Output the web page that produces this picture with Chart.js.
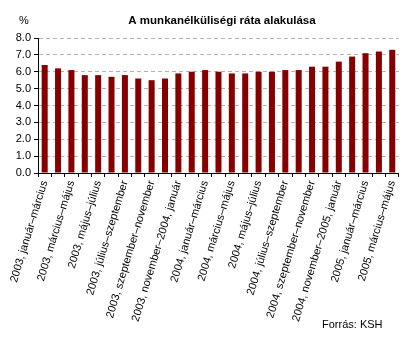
<!DOCTYPE html>
<html>
<head>
<meta charset="utf-8">
<script src="https://cdn.jsdelivr.net/npm/chart.js@4/dist/chart.umd.min.js"></script>
<style>
  html, body { margin: 0; padding: 0; background: #fff; }
  #wrap { width: 407px; height: 337px; position: relative; }
</style>
</head>
<body>
<div id="wrap"><canvas id="chart"></canvas></div>
<script>
// three-month moving periods, KSH labour force survey
const periods = [
  "2003, január–március",
  "2003, február–április",
  "2003, március–május",
  "2003, április–június",
  "2003, május–július",
  "2003, június–augusztus",
  "2003, július–szeptember",
  "2003, augusztus–október",
  "2003, szeptember–november",
  "2003, október–december",
  "2003, november–2004, január",
  "2003, december–2004, február",
  "2004, január–március",
  "2004, február–április",
  "2004, március–május",
  "2004, április–június",
  "2004, május–július",
  "2004, június–augusztus",
  "2004, július–szeptember",
  "2004, augusztus–október",
  "2004, szeptember–november",
  "2004, október–december",
  "2004, november–2005, január",
  "2004, december–2005, február",
  "2005, január–március",
  "2005, február–április",
  "2005, március–május"
];

// unemployment rate, %
const rate = [
  6.4, 6.2, 6.1, 5.8, 5.8, 5.7, 5.8, 5.6, 5.5, 5.6,
  5.9, 6.0, 6.1, 6.0, 5.9, 5.9, 6.0, 6.0, 6.1, 6.1,
  6.3, 6.3, 6.6, 6.9, 7.1, 7.2, 7.3
];

const yTicks = [0, 1, 2, 3, 4, 5, 6, 7, 8];

const FONT = "Arial, 'Liberation Sans', sans-serif";

// title, unit and source are placed by hand like in the printed report
const extraText = {
  id: "extraText",
  afterDraw(chart) {
    const ctx = chart.ctx;
    ctx.save();
    ctx.fillStyle = "#000";
    ctx.textBaseline = "middle";
    ctx.font = "bold 11.5px " + FONT;
    ctx.textAlign = "center";
    ctx.fillText("A munkanélküliségi ráta alakulása", 222, 21);
    ctx.font = "11px " + FONT;
    ctx.textAlign = "left";
    ctx.fillText("%", 19, 21);
    ctx.fillText("Forrás: KSH", 322, 325);
    ctx.restore();
  }
};

new Chart(document.getElementById("chart"), {
  type: "bar",
  data: {
    labels: periods,
    datasets: [{
      data: rate,
      backgroundColor: "#860000",
      borderWidth: 0,
      barPercentage: 0.45,
      categoryPercentage: 1.0
    }]
  },
  options: {
    responsive: true,
    maintainAspectRatio: false,
    animation: false,
    layout: { padding: { top: 38, right: 6, left: 0, bottom: 0 } },
    plugins: {
      legend: { display: false },
      title: { display: false },
      tooltip: { enabled: false }
    },
    scales: {
      x: {
        offset: true,
        grid: {
          offset: true,
          drawOnChartArea: false,
          drawTicks: true,
          tickLength: 4,
          tickColor: "#000",
          tickWidth: 1
        },
        border: { display: true, color: "#000", width: 1 },
        ticks: {
          autoSkip: false,
          maxRotation: 73,
          minRotation: 73,
          padding: 2,
          color: "#000",
          font: { family: FONT, size: 11 },
          callback: (v, i) => (i % 2 === 0 ? periods[i] : "")
        },
        afterFit(scale) { scale.height = 164; }
      },
      y: {
        min: 0,
        max: 8,
        afterBuildTicks(scale) { scale.ticks = yTicks.map(v => ({ value: v })); },
        grid: {
          color: "#b8b5a4",
          lineWidth: 1,
          drawTicks: true,
          tickLength: 4,
          tickColor: "#000",
          tickBorderDash: []
        },
        border: { display: true, color: "#000", width: 1, dash: [4, 3] },
        ticks: {
          padding: 3,
          color: "#000",
          font: { family: FONT, size: 11 },
          callback: v => v.toFixed(1)
        },
        afterFit(scale) { scale.width = 38; }
      }
    }
  },
  plugins: [extraText]
});
</script>
</body>
</html>
